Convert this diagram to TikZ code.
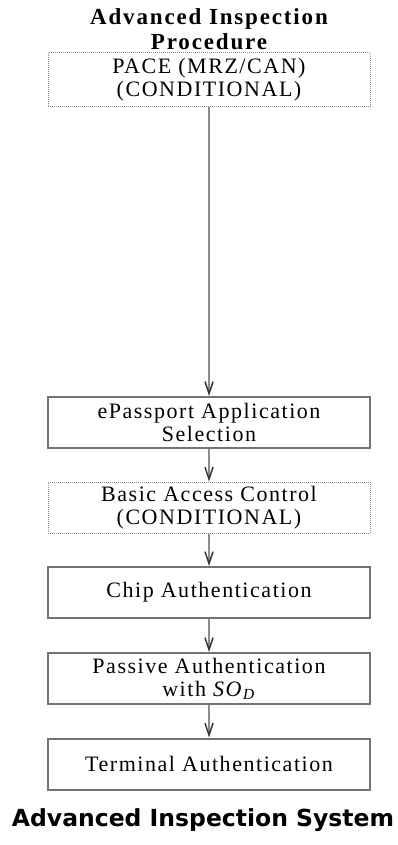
\documentclass[tikz,border=0pt]{standalone}
\usepackage{fontspec}
\setmainfont{Liberation Serif}[LetterSpace=7]
\newfontfamily\procfont{Liberation Serif}[LetterSpace=8]
\newfontfamily\headfont{DejaVu Sans}
\usetikzlibrary{arrows.meta}

\begin{document}
\begin{tikzpicture}[
    x=1pt, y=-1pt,
    box/.style={rectangle, draw=black!55, line width=2pt, minimum width=322pt, minimum height=51pt, inner sep=0pt, align=center, font=\fontsize{22}{23}\selectfont},
    dotbox/.style={box, draw=black!45, line width=1pt, dash pattern=on 1pt off 1pt},
    arrow/.style={draw=black!45, line width=1.5pt, -{Straight Barb[length=12pt,width=8pt,color=black!80]}},
    title/.style={align=center, font=\procfont\bfseries\fontsize{23}{25}\selectfont}
]
\useasboundingbox (0,0) rectangle (398,845);

% Procedure title
\node[title] (proc) at (209,29) {Advanced Inspection\\Procedure};

% Steps
\node[dotbox, minimum height=54pt] (pace) at (209,80) {PACE (MRZ/CAN)\\(CONDITIONAL)};
\node[box] (select) at (209,422.5) {ePassport Application\\Selection};
\node[dotbox] (bac) at (209,507.5) {Basic Access Control\\(CONDITIONAL)};
\node[box] (chip) at (209,592.5) {Chip Authentication};
\node[box] (passive) at (209,678.5) {Passive Authentication\\with \textit{SO}\textsubscript{\textit{D}}};
\node[box] (terminal) at (209,764) {Terminal Authentication};

% Connections
\draw[arrow] (pace) -- (select);
\draw[arrow] (select) -- (bac);
\draw[arrow] (bac) -- (chip);
\draw[arrow] (chip) -- (passive);
\draw[arrow] (passive) -- (terminal);

% System label
\node[font=\headfont\bfseries\fontsize{23.5}{26}\selectfont] (system) at (203,820) {Advanced Inspection System};

\end{tikzpicture}
\end{document}
